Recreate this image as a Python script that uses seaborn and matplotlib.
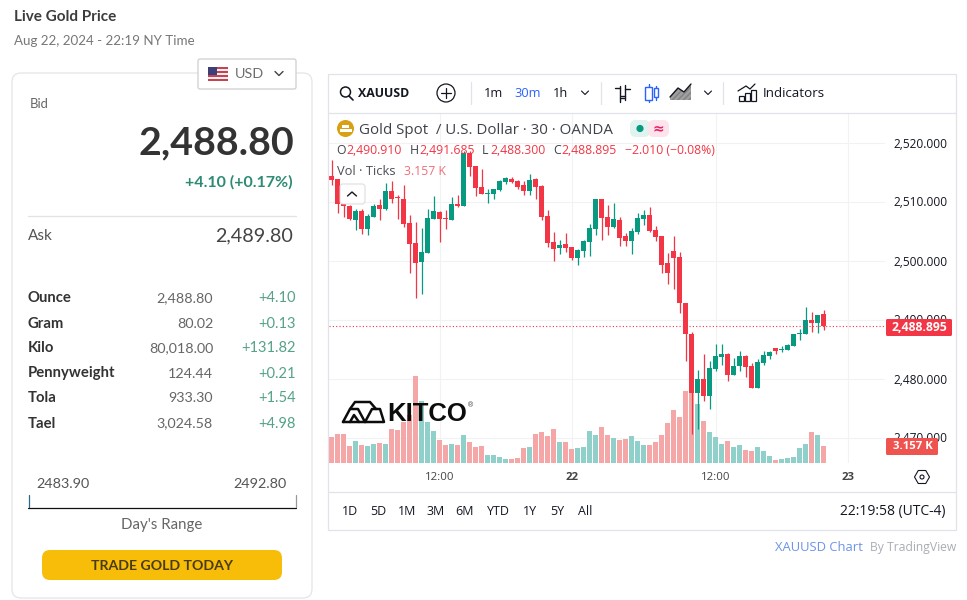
import numpy as np
import pandas as pd
import matplotlib
matplotlib.use("Agg")
import matplotlib.pyplot as plt
from matplotlib.patches import FancyBboxPatch, Rectangle, Circle, RegularPolygon
import seaborn as sns

sns.set_style("white")
plt.rcParams['font.family'] = ['Open Sans', 'DejaVu Sans']

# -----------------------------
# DATA (30 min bars)
# -----------------------------

opens = [2514.3, 2513.8, 2509.5, 2509.2, 2506.9, 2508.4, 2505.3, 2507.4, 2509.4, 2508.7,
         2511.8, 2510.8, 2510.4, 2506.3, 2503.0, 2499.7, 2501.3, 2507.0, 2508.2, 2507.2,
         2506.9, 2509.6, 2509.2, 2518.2, 2516.0, 2512.4, 2511.3, 2511.3, 2511.9, 2513.3,
         2513.8, 2513.5, 2512.8, 2511.8, 2513.8, 2512.6, 2507.5, 2503.1, 2502.1, 2502.8,
         2502.3, 2500.4, 2501.6, 2503.1, 2505.3, 2510.4, 2507.4, 2505.7, 2506.9, 2504.2,
         2503.3, 2504.8, 2507.0, 2507.7, 2505.2, 2504.2, 2499.6, 2501.6, 2500.6, 2492.8,
         2487.5, 2477.5, 2479.9, 2477.0, 2481.6, 2483.6, 2484.2, 2480.6, 2482.1, 2483.8,
         2482.1, 2478.4, 2482.6, 2483.8, 2485.2, 2484.8, 2484.8, 2485.5, 2487.5, 2487.5,
         2489.9, 2489.4, 2490.91]
highs = [2517.0, 2513.8, 2509.5, 2509.4, 2508.8, 2508.8, 2507.9, 2509.6, 2510.5, 2513.1,
         2513.5, 2511.1, 2512.8, 2507.7, 2506.6, 2505.5, 2508.7, 2510.9, 2508.4, 2508.6,
         2510.8, 2511.1, 2518.5, 2518.5, 2516.0, 2515.5, 2512.2, 2512.2, 2513.6, 2514.1,
         2514.1, 2513.6, 2513.4, 2514.6, 2514.0, 2512.8, 2508.6, 2504.9, 2503.5, 2504.7,
         2502.3, 2501.9, 2503.5, 2506.2, 2510.4, 2510.4, 2509.4, 2509.7, 2507.3, 2504.6,
         2505.5, 2508.1, 2508.6, 2509.0, 2505.8, 2504.2, 2501.3, 2504.2, 2501.4, 2492.8,
         2487.8, 2481.4, 2484.2, 2483.0, 2485.9, 2485.9, 2484.3, 2483.5, 2484.7, 2484.0,
         2482.6, 2483.3, 2484.7, 2484.6, 2485.2, 2485.5, 2485.9, 2487.6, 2488.4, 2492.1,
         2491.3, 2490.8, 2491.685]
lows = [2512.8, 2508.1, 2507.4, 2506.9, 2505.2, 2504.5, 2504.3, 2507.3, 2506.9, 2508.6,
        2509.7, 2507.1, 2505.7, 2497.9, 2493.7, 2494.3, 2501.3, 2507.0, 2503.1, 2505.3,
        2506.9, 2509.1, 2509.2, 2514.3, 2510.9, 2511.3, 2509.8, 2510.5, 2511.7, 2513.0,
        2513.1, 2512.1, 2511.1, 2511.1, 2510.4, 2506.9, 2502.3, 2500.0, 2501.1, 2501.4,
        2500.1, 2499.2, 2500.6, 2500.8, 2504.3, 2503.5, 2504.3, 2505.5, 2502.5, 2502.5,
        2501.1, 2504.5, 2506.0, 2504.9, 2503.3, 2497.9, 2496.0, 2495.2, 2491.1, 2482.9,
        2470.6, 2471.4, 2476.2, 2474.8, 2481.3, 2482.3, 2479.6, 2480.6, 2481.3, 2480.3,
        2478.4, 2478.4, 2482.3, 2483.3, 2484.2, 2484.5, 2484.8, 2485.5, 2486.5, 2487.5,
        2487.9, 2487.7, 2488.3]
closes = [2513.6, 2509.6, 2509.2, 2507.0, 2508.4, 2505.3, 2507.5, 2509.2, 2508.7, 2511.8,
          2510.4, 2510.6, 2506.2, 2502.8, 2499.6, 2501.4, 2507.2, 2508.4, 2507.0, 2507.0,
          2509.6, 2509.2, 2518.2, 2515.8, 2512.3, 2511.3, 2511.5, 2512.1, 2513.5, 2514.0,
          2513.3, 2512.4, 2511.8, 2513.6, 2512.5, 2507.4, 2503.0, 2501.9, 2502.6, 2502.1,
          2500.4, 2501.8, 2503.3, 2505.5, 2510.4, 2507.2, 2505.7, 2507.0, 2503.8, 2503.3,
          2505.0, 2507.2, 2507.7, 2505.0, 2504.0, 2499.2, 2497.9, 2500.4, 2492.8, 2487.5,
          2477.5, 2479.9, 2477.0, 2481.8, 2483.8, 2484.2, 2480.6, 2482.1, 2483.8, 2482.0,
          2478.4, 2482.8, 2484.0, 2484.5, 2484.7, 2485.0, 2485.7, 2487.5, 2487.7, 2489.9,
          2489.4, 2490.8, 2488.895]
volumes = [4.86, 5.43, 5.43, 3.16, 4.10, 3.34, 3.16, 3.53, 3.72, 3.53,
           6.37, 6.18, 7.70, 9.02, 16.4, 11.67, 7.70, 5.99, 4.29, 3.34,
           3.53, 3.34, 5.24, 3.91, 2.97, 3.16, 1.45, 1.45, 1.07, 0.69,
           0.69, 0.88, 2.78, 2.97, 5.43, 5.81, 5.05, 6.37, 3.91, 3.91,
           2.59, 2.78, 2.97, 5.99, 5.24, 6.75, 5.24, 4.67, 4.29, 4.48,
           5.05, 4.10, 3.34, 3.34, 3.91, 5.24, 7.51, 9.97, 8.64, 13.57,
           13.19, 11.11, 7.89, 5.81, 4.86, 3.53, 4.10, 2.97, 3.34, 2.40,
           2.21, 2.97, 2.21, 1.26, 0.50, 0.69, 0.88, 1.07, 2.78, 3.53,
           5.81, 5.24, 3.157]

price_ticks = [2470, 2480, 2490, 2500, 2510, 2520]
time_tick_bars = [18, 40, 64, 86]
time_tick_labels = ["12:00", "22", "12:00", "23"]

units = ["Ounce", "Gram", "Kilo", "Pennyweight", "Tola", "Tael"]
unit_prices = ["2,488.80", "80.02", "80,018.00", "124.44", "933.30", "3,024.58"]
unit_changes = ["+4.10", "+0.13", "+131.82", "+0.21", "+1.54", "+4.98"]
ranges = ["1D", "5D", "1M", "3M", "6M", "YTD", "1Y", "5Y", "All"]

RED = "#F23645"
GREEN = "#089981"
GRID = "#f0f2f4"
TV_TEXT = "#131722"
FONT_L = "Lato"
FONT_TV = "Open Sans"

df = pd.DataFrame({"bar": np.arange(len(opens)), "open": opens, "high": highs,
                   "low": lows, "close": closes, "vol": volumes})
df["dir"] = np.where(df["close"] >= df["open"], "up", "down")

# -----------------------------
# FIGURE / AXES
# -----------------------------

W, H = 967, 600
fig = plt.figure(figsize=(W / 100, H / 100), dpi=100, facecolor="white")


def pane(left, top, right, bottom, z):
    a = fig.add_axes([left / W, 1 - bottom / H, (right - left) / W, (bottom - top) / H], zorder=z)
    a.patch.set_alpha(0)
    return a


L, T, R, B = 329, 113, 885, 462.5
xlim = ((L - 331.6) / 6, (R - 331.6) / 6)
ylim = (2520 - (B - 142.5) / 5.9, 2520 - (T - 142.5) / 5.9)

# grid and tick labels
ax_grid = pane(L, T, R, B, 1)
ax_grid.set_xlim(xlim)
ax_grid.set_ylim(ylim)
ax_grid.yaxis.tick_right()
ax_grid.set_yticks(price_ticks)
ax_grid.set_yticklabels([f"{p:,.3f}" for p in price_ticks], fontsize=8.6, color=TV_TEXT, family=FONT_TV)
ax_grid.set_xticks(time_tick_bars)
ax_grid.set_xticklabels(time_tick_labels, fontsize=8.2, color="#444444", family=FONT_TV)
ax_grid.get_xticklabels()[1].set_fontweight("bold")
ax_grid.get_xticklabels()[3].set_fontweight("bold")
ax_grid.tick_params(axis="y", length=0, pad=6)
ax_grid.tick_params(axis="x", length=0, pad=6.5)
ax_grid.grid(True, color=GRID, lw=0.8)
sns.despine(ax=ax_grid, left=True, bottom=True)

# volume
ax_vol = pane(L, T, R, B, 2)
sns.barplot(data=df, x="bar", y="vol", hue="dir", palette={"up": "#8fd0ca", "down": "#f5a6a6"},
            native_scale=True, dodge=False, width=0.83, legend=False, errorbar=None,
            saturation=1, linewidth=0, ax=ax_vol)
ax_vol.set_xlim(xlim)
ax_vol.set_ylim(0, (B - T) * 3.157 / 16.7)
ax_vol.axis("off")

# candles
ax = pane(L, T, R, B, 3)
colors = [GREEN if d == "up" else RED for d in df["dir"]]
ax.vlines(df["bar"], df["low"], df["high"], colors=colors, lw=0.9)
ax.bar(df["bar"], (df["close"] - df["open"]).abs(), bottom=df[["open", "close"]].min(axis=1),
       width=0.8, color=colors, linewidth=0)
ax.hlines(closes[-1], xlim[0], xlim[1], colors=RED, lw=0.8, linestyles=(0, (1, 2)))
ax.set_xlim(xlim)
ax.set_ylim(ylim)
ax.axis("off")

# page chrome, in pixels
ui = pane(0, 0, W, H, 5)
ui.set_xlim(0, W)
ui.set_ylim(H, 0)
ui.axis("off")


def txt(x, y, s, size=10, color="#333333", ha="left", weight="normal", family=FONT_L):
    return ui.text(x, y + 1, s, fontsize=size, color=color, ha=ha, va="center", fontweight=weight, family=family)


def box(x0, y0, x1, y1, r=0, fc="white", ec="#e3e5e8", lw=0.9, alpha=1.0):
    p = FancyBboxPatch((x0 + r, y0 + r), x1 - x0 - 2 * r, y1 - y0 - 2 * r,
                       boxstyle=f"round,pad={r},rounding_size={r}" if r else "square,pad=0",
                       fc=fc, ec=ec, lw=lw, alpha=alpha)
    ui.add_patch(p)
    return p


def line(xs, ys, color="#131722", lw=1.0):
    ui.plot(xs, ys, color=color, lw=lw, solid_capstyle="round", solid_joinstyle="round")


# -----------------------------
# LEFT PANEL
# -----------------------------

txt(14, 16, "Live Gold Price", 11, "#3c3c3c", weight="bold")
txt(14, 40, "Aug 22, 2024 - 22:19 NY Time", 9.6, "#777777")

box(12, 73, 312, 598, r=9)
box(198, 59, 296, 89, r=2, ec="#cfcfcf")
for k in range(7):
    ui.add_patch(Rectangle((208, 67 + k * 2), 20, 2, fc="#c8434f" if k % 2 == 0 else "#f4f0f0", lw=0))
ui.add_patch(Rectangle((208, 67), 9, 7.5, fc="#3d3f78", lw=0))
txt(235, 73.5, "USD", 10.4, "#6e6e6e")
line([275, 279, 283], [71.5, 75.5, 71.5], "#444444", 1.0)

txt(30, 103.5, "Bid", 9.4, "#666666")
txt(294, 141.5, "2,488.80", 28.4, "#333333", ha="right", weight="bold")
txt(293, 181, "+4.10 (+0.17%)", 11.5, "#2e8b73", ha="right", weight="bold")
line([28, 296], [216, 216], "#e2e2e2", 0.9)
txt(28, 234.5, "Ask", 11, "#555555")
txt(293, 234.5, "2,489.80", 14.2, "#444444", ha="right")

for k, (u, p, c) in enumerate(zip(units, unit_prices, unit_changes)):
    y = 297.5 + 25 * k
    txt(28, y, u, 10.7, "#333333", weight="bold")
    txt(213, y, p, 10.3, "#666666", ha="right")
    txt(296, y, c, 10.5, "#55a18b", ha="right")

txt(36, 483.5, "2483.90", 10.4, "#555555")
txt(287, 483.5, "2492.80", 10.4, "#555555", ha="right")
line([28, 296], [507.5, 507.5], "#111111", 0.9)
line([28.5, 28.5], [495, 507], "#2a6a8a", 0.9)
line([295.5, 295.5], [495, 507], "#999999", 0.9)
txt(162, 524.5, "Day's Range", 10.8, "#666666", ha="center")

btn = box(42, 550, 282, 580, r=8, fc="#f7bd08", ec="none", lw=0)
img = ui.imshow(np.linspace(0, 1, 30).reshape(-1, 1), extent=(42, 282, 580, 550), aspect="auto",
                cmap=matplotlib.colors.LinearSegmentedColormap.from_list("btn", ["#f0b516", "#ffc800"]))
img.set_clip_path(btn)
ui.set_xlim(0, W)
ui.set_ylim(H, 0)
txt(162, 564.5, "TRADE GOLD TODAY", 10.2, "#4a3c12", ha="center", weight="bold")

# -----------------------------
# CHART FRAME AND TOOLBARS
# -----------------------------

box(328, 74, 956, 530, ec="#e0e3eb", fc="none")
line([328, 956], [112.5, 112.5], "#e0e3eb", 0.9)
line([328, 956], [491.5, 491.5], "#e0e3eb", 0.9)

# top toolbar
ui.add_patch(Circle((345.5, 92), 5, fc="none", ec=TV_TEXT, lw=1.1))
line([349, 353], [96, 100], TV_TEXT, 1.2)
txt(358, 92.5, "XAUUSD", 8.9, TV_TEXT, weight="bold", family=FONT_TV)
ui.add_patch(Circle((446, 93), 9, fc="none", ec=TV_TEXT, lw=0.9))
line([441, 451], [93, 93], TV_TEXT, 0.9)
line([446, 446], [88, 98], TV_TEXT, 0.9)
for sx in [470.5, 600.5, 722.5]:
    line([sx, sx], [82, 104], "#e0e3eb", 0.9)
txt(484, 92.5, "1m", 9.2, TV_TEXT, family=FONT_TV)
txt(514.5, 92.5, "30m", 9.2, "#2962ff", family=FONT_TV)
txt(553, 92.5, "1h", 9.2, TV_TEXT, family=FONT_TV)
for cx in [585, 708]:
    line([cx - 3.5, cx, cx + 3.5], [91, 94.5, 91], TV_TEXT, 0.8)
# bars icon
line([620, 620], [86, 102], TV_TEXT, 1)
line([615, 620], [88, 88], TV_TEXT, 1)
line([620, 624], [98, 98], TV_TEXT, 1)
line([625, 625], [85, 100], TV_TEXT, 1)
line([625, 630], [89, 89], TV_TEXT, 1)
line([621, 625], [96, 96], TV_TEXT, 1)
# candles icon
line([648.7, 648.7], [84, 102], "#2962ff", 1)
line([656, 656], [86, 100], "#2962ff", 1)
ui.add_patch(Rectangle((645, 87), 7, 13, fc="white", ec="#2962ff", lw=1, zorder=3))
ui.add_patch(Rectangle((654, 88), 4, 9, fc="white", ec="#2962ff", lw=1, zorder=3))
# area icon
ui.fill_between([670, 678, 684, 691], [97, 88, 92, 84], 100, color="#777777", hatch="//////", lw=0, alpha=0.7)
line([670, 678, 684, 691], [97, 88, 92, 84], TV_TEXT, 1)
# indicators icon
line([738, 746, 750, 755], [91, 86, 89, 84], TV_TEXT, 0.9)
for rx, ry in [(739, 96), (745, 93), (751, 90)]:
    ui.add_patch(Rectangle((rx, ry), 4.5, 101 - ry, fc="none", ec=TV_TEXT, lw=0.9))
txt(763, 92.5, "Indicators", 9.6, TV_TEXT, family=FONT_TV)

# legend lines
ui.add_patch(Circle((345.5, 128.5), 8.5, fc="#d9a013", lw=0))
ui.add_patch(Rectangle((342, 125), 7, 3, fc="white", lw=0))
ui.add_patch(Rectangle((339.5, 129), 12, 2.5, fc="white", lw=0))
txt(359, 129.5, "Gold Spot  / U.S. Dollar · 30 · OANDA", 10.9, "#3d4149", family=FONT_TV)
box(630, 120, 650, 137, r=6, fc="#e0f3ef", ec="none", lw=0)
box(648, 120, 669, 137, r=6, fc="#fde4ec", ec="none", lw=0)
ui.add_patch(Circle((640, 128.5), 3.6, fc=GREEN, lw=0))
txt(658.5, 127.5, "≈", 10, "#e91e63", ha="center", weight="bold", family="DejaVu Sans")

for x, s, c in [(336, "O", "#3d4149"), (346, "2,490.910", RED), (410, "H", "#3d4149"), (419, "2,491.685", RED),
                (482, "L", "#3d4149"), (490, "2,488.300", RED), (553, "C", "#3d4149"), (561, "2,488.895", RED),
                (625, "−2.010 (−0.08%)", RED)]:
    txt(x, 149.5, s, 8.8, c, family=FONT_TV)
txt(337, 170.5, "Vol · Ticks", 9.3, "#4a4e57", family=FONT_TV)
txt(404, 170.5, "3.157 K", 8.8, "#ef6f78", family=FONT_TV)
box(340, 184, 365, 204, r=3, fc="white", ec="#d5d8de", alpha=0.75)
line([347.5, 352, 356.5], [196, 192, 196], TV_TEXT, 1)

# kitco watermark
for shape in [[(343, 422), (350, 409), (358, 409), (365, 422), (343, 422)],
              [(365, 422), (372, 409), (380, 409), (384, 422), (365, 422)],
              [(350, 409), (355, 402), (370, 402), (376, 409)],
              [(350, 422), (354, 415), (359, 422)]]:
    line([p[0] for p in shape], [p[1] for p in shape], "#0c0c0c", 1.8)
txt(387, 413, "KITCO", 18.5, "#0c0c0c", weight="bold", family="Liberation Sans")
txt(468, 405, "®", 5, "#333333", family="Liberation Sans")

# price scale labels
box(886, 319, 952, 336, r=1.5, fc=RED, ec="none", lw=0)
txt(919.5, 326.5, "2,488.895", 8.8, "white", ha="center", weight="bold", family=FONT_TV)
box(886, 438, 938, 455, r=1.5, fc="#ef5350", ec="none", lw=0)
txt(912.5, 445.5, "3.157 K", 8.2, "white", ha="center", weight="bold", family=FONT_TV)
ui.add_patch(RegularPolygon((922, 477), 6, radius=7.5, orientation=np.pi / 2, fc="none", ec=TV_TEXT, lw=0.8))
ui.add_patch(Circle((922, 477), 2, fc="none", ec=TV_TEXT, lw=0.8))

# bottom toolbar
for x, s in zip([350.5, 378.5, 407, 436, 465, 498, 530, 557, 585], ranges):
    txt(x, 510.5, s, 9, TV_TEXT, ha="center", family=FONT_TV)
txt(945, 510.5, "22:19:58 (UTC-4)", 10, TV_TEXT, ha="right", family=FONT_TV)

txt(775, 546.5, "XAUUSD Chart", 9.4, "#6d93e8", family=FONT_TV)
txt(956, 546.5, "By TradingView", 8.7, "#a9adb5", ha="right", family=FONT_TV)

fig.savefig("out.png", dpi=100)
